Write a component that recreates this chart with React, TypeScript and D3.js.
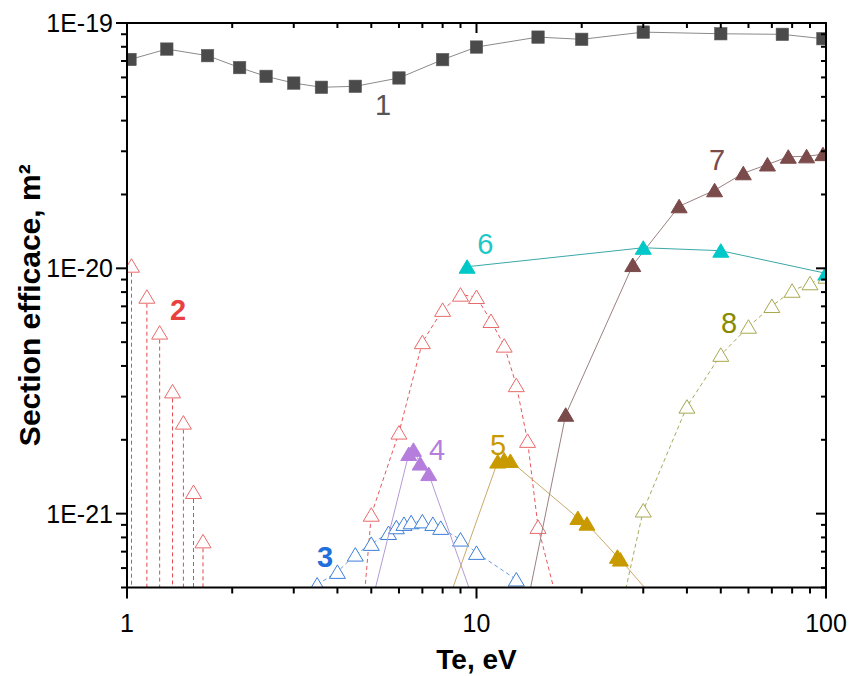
import React from "react";
import * as d3 from "d3";

// ---------- data ----------
const s1X = [1.02, 1.3, 1.7, 2.1, 2.5, 3.0, 3.6, 4.5, 6, 8, 10, 15, 20, 30, 50, 75, 98];
const s1Y = [7.1e-20, 7.83e-20, 7.36e-20, 6.58e-20, 6.06e-20, 5.69e-20, 5.47e-20, 5.52e-20, 5.97e-20, 7.09e-20, 7.98e-20, 8.76e-20, 8.58e-20, 9.18e-20, 9.04e-20, 8.99e-20, 8.63e-20];

// series 2, low-energy part (drop lines)
const s2aX = [1.03, 1.14, 1.24, 1.35, 1.45, 1.55, 1.65];
const s2aY = [1.025e-20, 7.66e-21, 5.47e-21, 3.15e-21, 2.35e-21, 1.225e-21, 7.71e-22];
// series 2, bell part
const s2bX = [4.5, 5, 6, 7, 8, 9, 10, 11, 12, 13, 14, 15, 18];
const s2bY = [1.7e-22, 9.9e-22, 2.14e-21, 5.0e-21, 6.77e-21, 7.81e-21, 7.64e-21, 6.1e-21, 4.84e-21, 3.34e-21, 1.98e-21, 8.83e-22, 3.2e-22];

const s3X = [3.5, 4.0, 4.5, 5.0, 5.6, 5.9, 6.2, 6.5, 7.0, 7.5, 7.9, 9, 10, 13];
const s3Y = [5.14e-22, 5.79e-22, 6.81e-22, 7.53e-22, 8.34e-22, 8.8e-22, 9.08e-22, 9.22e-22, 9.3e-22, 9.08e-22, 8.75e-22, 7.84e-22, 6.92e-22, 5.39e-22];

const s4X = [5, 6.4, 6.6, 6.9, 7.3, 10];
const s4Y = [4.26e-22, 1.75e-21, 1.82e-21, 1.6e-21, 1.45e-21, 4.09e-22];

const s5X = [8, 11.5, 12, 12.5, 19.5, 20.7, 25.3, 25.8, 40];
const s5Y = [3.8e-22, 1.63e-21, 1.66e-21, 1.64e-21, 9.6e-22, 9.1e-22, 6.67e-22, 6.5e-22, 3.16e-22];

const s6X = [9.4, 30, 50, 100];
const s6Y = [1.015e-20, 1.213e-20, 1.18e-20, 9.54e-21];

const s7X = [8, 18, 28, 38, 48, 58, 68, 78, 88, 98];
const s7Y = [8.6e-24, 2.53e-21, 1.031e-20, 1.79e-20, 2.08e-20, 2.44e-20, 2.65e-20, 2.85e-20, 2.86e-20, 2.92e-20];

const s8X = [20, 30, 40, 50, 60, 70, 80, 90, 100];
const s8Y = [7.7e-23, 1.03e-21, 2.73e-21, 4.44e-21, 5.78e-21, 7.02e-21, 8.1e-21, 8.69e-21, 9.24e-21];

const xMajor = [1, 10, 100];
const xMajorLabels = ["1", "10", "100"];
const yMajor = [1e-19, 1e-20, 1e-21];
const yMajorLabels = ["1E-19", "1E-20", "1E-21"];

const seriesLabels = ["1", "2", "3", "4", "5", "6", "7", "8"];
const labelX = [5.4, 1.4, 3.69, 7.71, 11.52, 10.6, 48.8, 52.8];
const labelY = [4.62e-20, 6.77e-21, 6.68e-22, 1.82e-21, 1.91e-21, 1.256e-20, 2.76e-20, 5.99e-21];

// ---------- layout ----------
const W = 849, H = 676;
const L = 127, R = 826, T = 23, B = 587.5;
const FONT = "'Liberation Sans', Arial, Helvetica, sans-serif";

const x = d3.scaleLog().domain([1, 100]).range([L, R]);
const y = d3.scaleLog().domain([5e-22, 1e-19]).range([B, T]);

const tri = "M0,-7 L8,6.5 L-8,6.5 Z";

function pts(xs: number[], ys: number[]) {
  return xs.map((v, i) => [x(v), y(ys[i])] as [number, number]);
}
const line = d3.line<[number, number]>();

function Series({ xs, ys, lineColor, dash, marker, fill, stroke }: any) {
  const p = pts(xs, ys);
  return (
    <g>
      <path d={line(p) || ""} fill="none" stroke={lineColor} strokeWidth={1} strokeDasharray={dash} />
      {p.map((q, i) =>
        marker === "square" ? (
          <rect key={i} x={q[0] - 6.2} y={q[1] - 6.2} width={12.4} height={12.4} fill={fill} stroke={stroke} strokeWidth={0.6} />
        ) : (
          <path key={i} d={tri} transform={`translate(${q[0]},${q[1]})`} fill={fill} stroke={stroke} strokeWidth={1} />
        )
      )}
    </g>
  );
}

const labelColors = ["#555555", "#e8413f", "#1f6fdc", "#b57edc", "#c99a00", "#1ec8c8", "#7b4a4a", "#8a8a00"];
const labelWeights = ["normal", "bold", "bold", "normal", "normal", "normal", "normal", "normal"];

export default function App() {
  const xMinor: number[] = [];
  for (const d of [1, 10]) for (let k = 2; k <= 9; k++) xMinor.push(d * k);
  const yMinor: number[] = [];
  for (const d of [1e-22, 1e-21, 1e-20]) for (let k = 2; k <= 9; k++) {
    const v = d * k;
    if (v >= 5e-22 && v <= 1e-19) yMinor.push(v);
  }
  const s2a = pts(s2aX, s2aY);

  return (
    <svg width={W} height={H} style={{ position: "absolute", left: 0, top: 0, background: "#fff" }} fontFamily={FONT}>
      <defs>
        <clipPath id="plot">
          <rect x={L} y={T} width={R - L} height={B - T} />
        </clipPath>
      </defs>
      <rect x={0} y={0} width={W} height={H} fill="#fff" />
      <g clipPath="url(#plot)">
        {s2a.map((q, i) => (
          <line key={"d" + i} x1={q[0]} x2={q[0]} y1={q[1]} y2={B + 5} stroke="#e8474a" strokeWidth={1} strokeDasharray="4,3" />
        ))}
        <Series xs={s1X} ys={s1Y} lineColor="#8a8a8a" marker="square" fill="#4a4a4a" stroke="#5a5a5a" />
        <Series xs={s2bX} ys={s2bY} lineColor="#e8575a" dash="4,3" marker="tri" fill="#fff" stroke="#e86a6a" />
        <Series xs={s3X} ys={s3Y} lineColor="#6a9ae0" dash="4,3" marker="tri" fill="#fff" stroke="#3c7fd8" />
        <Series xs={s8X} ys={s8Y} lineColor="#a8a860" dash="4,3" marker="tri" fill="#fff" stroke="#a8a850" />
        <Series xs={s4X} ys={s4Y} lineColor="#b59ad6" marker="tri" fill="#b57edc" stroke="#b57edc" />
        <Series xs={s5X} ys={s5Y} lineColor="#c8aa6a" marker="tri" fill="#c99a00" stroke="#c99a00" />
        <Series xs={s7X} ys={s7Y} lineColor="#9c8080" marker="tri" fill="#7b4a4a" stroke="#7b4a4a" />
        <Series xs={s6X} ys={s6Y} lineColor="#3aa8a8" marker="tri" fill="#00c8c8" stroke="#00c8c8" />
        {s2a.map((q, i) => (
          <path key={"m" + i} d={tri} transform={`translate(${q[0]},${q[1]})`} fill="#fff" stroke="#e86a6a" strokeWidth={1} />
        ))}
      </g>

      {seriesLabels.map((s, i) => (
        <text key={i} x={x(labelX[i])} y={y(labelY[i])} fill={labelColors[i]} fontWeight={labelWeights[i]} fontSize={29} textAnchor="middle" dominantBaseline="central">
          {s}
        </text>
      ))}

      <rect x={L} y={T} width={R - L} height={B - T} fill="none" stroke="#000" strokeWidth={2} />

      {xMajor.map((v, i) => (
        <g key={"xm" + i}>
          <line x1={x(v)} x2={x(v)} y1={B} y2={B + 11} stroke="#000" strokeWidth={2} />
          <line x1={x(v)} x2={x(v)} y1={T} y2={T + 10} stroke="#000" strokeWidth={2} />
          <text x={x(v)} y={B + 44} textAnchor="middle" fontSize={25} fill="#000">{xMajorLabels[i]}</text>
        </g>
      ))}
      {xMinor.map((v, i) => (
        <g key={"xn" + i}>
          <line x1={x(v)} x2={x(v)} y1={B} y2={B + 6} stroke="#000" strokeWidth={2} />
          <line x1={x(v)} x2={x(v)} y1={T} y2={T + 5} stroke="#000" strokeWidth={2} />
        </g>
      ))}
      {yMajor.map((v, i) => (
        <g key={"ym" + i}>
          <line x1={L} x2={L - 11} y1={y(v)} y2={y(v)} stroke="#000" strokeWidth={2} />
          <line x1={R} x2={R - 10} y1={y(v)} y2={y(v)} stroke="#000" strokeWidth={2} />
          <text x={L - 14} y={y(v)} textAnchor="end" dominantBaseline="central" fontSize={25} fill="#000">{yMajorLabels[i]}</text>
        </g>
      ))}
      {yMinor.map((v, i) => (
        <g key={"yn" + i}>
          <line x1={L} x2={L - 6} y1={y(v)} y2={y(v)} stroke="#000" strokeWidth={2} />
          <line x1={R} x2={R - 5} y1={y(v)} y2={y(v)} stroke="#000" strokeWidth={2} />
        </g>
      ))}

      <text x={(L + R) / 2} y={669} textAnchor="middle" fontSize={28} fontWeight="bold" fill="#000">Te, eV</text>
      <text transform={`translate(40,${(T + B) / 2}) rotate(-90)`} textAnchor="middle" fontSize={30} fontWeight="bold" fill="#000">
        Section efficace, m²
      </text>
    </svg>
  );
}
